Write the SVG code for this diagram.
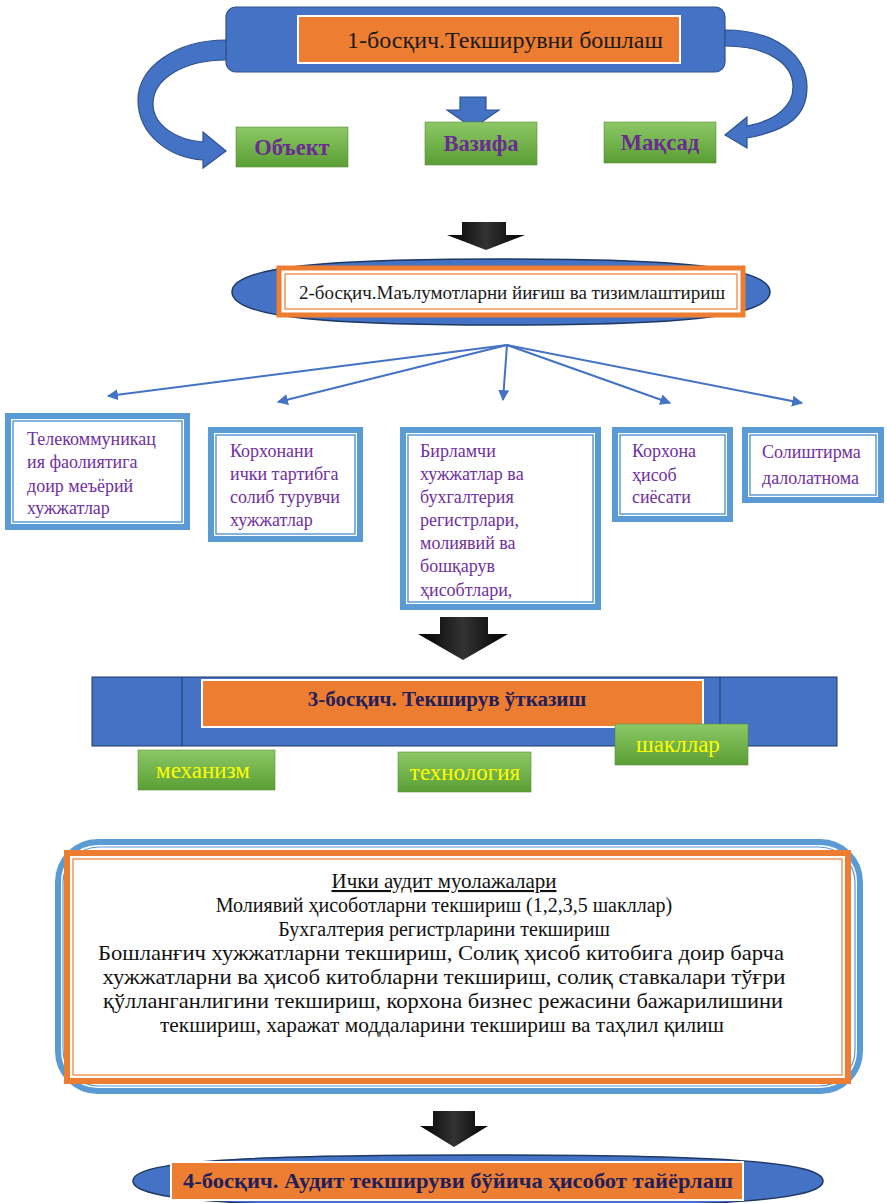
<svg xmlns="http://www.w3.org/2000/svg" width="887" height="1203" viewBox="0 0 887 1203">
<defs>
<linearGradient id="green" x1="0" y1="0" x2="0" y2="1"><stop offset="0" stop-color="#8CC866"/><stop offset="1" stop-color="#5B9E35"/></linearGradient>
<linearGradient id="black" x1="0" y1="0" x2="1" y2="0"><stop offset="0" stop-color="#000"/><stop offset="0.5" stop-color="#333"/><stop offset="1" stop-color="#000"/></linearGradient>
<style>
.serif{font-family:"Liberation Serif","Times New Roman",serif}
.blue{fill:#4472C4;stroke:#2F528F;stroke-width:1.2}
.orange{fill:#ED7D31;stroke:#fff;stroke-width:2}
.gbox{fill:url(#green);stroke:#5A8A3A;stroke-width:0.6}
.gtext{font-family:"Liberation Serif",serif;font-weight:bold;font-size:22.5px;fill:#6A2C91;text-anchor:middle}
.ytext{font-family:"Liberation Serif",serif;font-size:23px;fill:#FFFF00;text-anchor:middle}
.ptext{font-family:"Liberation Serif",serif;font-size:18px;fill:#7030A0}
.outer{fill:#fff;stroke:#5B9BD5;stroke-width:6}
.inner{fill:none;stroke:#5B9BD5;stroke-width:1.5}
.bk{fill:url(#black)}
.conn{stroke:#4472C4;stroke-width:2;fill:none}
.body{font-family:"Liberation Serif",serif;font-size:21px;fill:#111;text-anchor:middle}
.body2{font-family:"Liberation Serif",serif;font-size:20px;fill:#111;text-anchor:middle}
</style>
<marker id="ah" viewBox="0 0 10 10" refX="9" refY="5" markerWidth="11" markerHeight="11" orient="auto" markerUnits="userSpaceOnUse"><path d="M0,0 L10,5 L0,10 z" fill="#4472C4"/></marker>
</defs>
<rect width="887" height="1203" fill="#fff"/>

<g id="stage1">
<rect x="226" y="7" width="499" height="65" rx="10" class="blue"/>
<rect x="298" y="16" width="382" height="47" class="orange"/>
<text x="505" y="48" class="serif" font-size="24" fill="#1a1a1a" text-anchor="middle">1-босқич.Текширувни бошлаш</text>
</g>

<g id="connectors">
<path d="M226,40 C175,40 138,68 138,100 C138,135 170,158 203,160 L203,168 L226,151 L203,132 L203,142 C176,140 153,125 153,104 C153,78 185,60 226,60 Z" class="blue"/>
<path d="M725,30 C775,30 807,55 807,87 C807,115 790,130 747,138 L747,148 L725,135 L747,117 L747,126 C778,120 793,105 793,87 C793,62 765,46 725,46 Z" class="blue"/>
<path d="M460,97 H486 V110 H499 L473,128 L447,110 H460 Z" class="blue"/>
<path d="M462,222 H506 V235 H525 L486,250 L447,235 H462 Z" class="bk"/>
<g class="conn" marker-end="url(#ah)">
<line x1="507" y1="345" x2="108" y2="396"/>
<line x1="507" y1="345" x2="278" y2="402"/>
<line x1="507" y1="345" x2="503" y2="400"/>
<line x1="507" y1="345" x2="670" y2="403"/>
<line x1="507" y1="345" x2="802" y2="403"/>
</g>
<path d="M440,617 H488 V634 H508 L463,660 L418,634 H440 Z" class="bk"/>
<path d="M433,1111 H475 V1126 H488 L454,1147 L420,1126 H433 Z" class="bk"/>
</g>

<g id="obj"><rect x="236" y="127" width="112" height="40" class="gbox"/><text x="292" y="155" class="gtext">Объект</text></g>
<g id="vazifa"><rect x="425" y="122" width="112" height="43" class="gbox"/><text x="481" y="151" class="gtext">Вазифа</text></g>
<g id="maqsad"><rect x="604" y="122" width="112" height="41" class="gbox"/><text x="660" y="150" class="gtext">Мақсад</text></g>

<g id="stage2">
<path d="M232,292 C232,266 330,259 501,259 C672,259 770,266 770,292 C770,318 672,325 501,325 C330,325 232,318 232,292 Z" fill="#4472C4" stroke="#1F3864" stroke-width="1.5"/>
<rect x="279" y="268" width="464" height="47" fill="#fff" stroke="#ED7D31" stroke-width="5"/>
<rect x="285" y="274" width="452" height="35" fill="none" stroke="#ED7D31" stroke-width="1.2"/>
<text x="512" y="299" class="serif" font-size="19" fill="#1a1a1a" text-anchor="middle">2-босқич.Маълумотларни йиғиш ва тизимлаштириш</text>
</g>

<g id="doc1"><rect x="8" y="416" width="179" height="111" class="outer"/><rect x="13" y="421" width="169" height="101" class="inner"/>
<text class="ptext" x="27"><tspan y="445">Телекоммуникац</tspan><tspan x="27" y="468">ия фаолиятига</tspan><tspan x="27" y="492">доир меъёрий</tspan><tspan x="27" y="514">хужжатлар</tspan></text></g>
<g id="doc2"><rect x="211" y="430" width="149" height="109" class="outer"/><rect x="216" y="435" width="139" height="99" class="inner"/>
<text class="ptext" x="230"><tspan y="457">Корхонани</tspan><tspan x="230" y="480">ички тартибга</tspan><tspan x="230" y="503">солиб турувчи</tspan><tspan x="230" y="526">хужжатлар</tspan></text></g>
<g id="doc3"><rect x="403" y="430" width="195" height="177" class="outer"/><rect x="408" y="435" width="185" height="167" class="inner"/>
<text class="ptext" x="420"><tspan y="457">Бирламчи</tspan><tspan x="420" y="480">хужжатлар ва</tspan><tspan x="420" y="503">бухгалтерия</tspan><tspan x="420" y="526">регистрлари,</tspan><tspan x="420" y="549">молиявий ва</tspan><tspan x="420" y="572">бошқарув</tspan><tspan x="420" y="596">ҳисобтлари,</tspan></text></g>
<g id="doc4"><rect x="615" y="430" width="115" height="89" class="outer"/><rect x="620" y="435" width="105" height="79" class="inner"/>
<text class="ptext" x="632"><tspan y="457">Корхона</tspan><tspan x="632" y="481">ҳисоб</tspan><tspan x="632" y="503">сиёсати</tspan></text></g>
<g id="doc5"><rect x="745" y="430" width="136" height="70" class="outer"/><rect x="750" y="435" width="126" height="60" class="inner"/>
<text class="ptext" x="762"><tspan y="458">Солиштирма</tspan><tspan x="762" y="484">далолатнома</tspan></text></g>

<g id="stage3">
<rect x="92" y="677" width="745" height="69" fill="#4472C4" stroke="#1F3864" stroke-width="1"/>
<line x1="182" y1="677" x2="182" y2="746" stroke="#1F3864" stroke-width="1"/>
<line x1="720" y1="677" x2="720" y2="746" stroke="#1F3864" stroke-width="1"/>
<rect x="202" y="680" width="501" height="47" class="orange"/>
<text x="447" y="706" class="serif" font-size="21" font-weight="bold" fill="#1F1F5C" text-anchor="middle">3-босқич. Текширув ўтказиш</text>
</g>
<g id="mexanizm"><rect x="138" y="750" width="137" height="40" class="gbox"/><text x="203" y="778" class="ytext">механизм</text></g>
<g id="texnologiya"><rect x="398" y="752" width="133" height="40" class="gbox"/><text x="465" y="780" class="ytext">технология</text></g>
<g id="shakllar"><rect x="615" y="724" width="133" height="41" class="gbox"/><text x="678" y="752" class="ytext">шакллар</text></g>

<g id="procedures">
<rect x="58" y="842" width="802" height="249" rx="40" fill="#fff" stroke="#5B9BD5" stroke-width="6"/>
<rect x="63" y="847" width="792" height="239" rx="36" fill="none" stroke="#5B9BD5" stroke-width="1.2"/>
<rect x="67" y="853" width="781" height="228" fill="#fff" stroke="#ED7D31" stroke-width="6"/>
<rect x="73" y="859" width="769" height="216" fill="none" stroke="#ED7D31" stroke-width="1.2"/>
<text class="body" x="444" y="888" text-decoration="underline">Ички аудит муолажалари</text>
<text class="body2" x="444" y="912">Молиявий ҳисоботларни текшириш (1,2,3,5 шакллар)</text>
<text class="body2" x="444" y="936">Бухгалтерия регистрларини текшириш</text>
<text class="body" x="441" y="960" textLength="686" lengthAdjust="spacingAndGlyphs">Бошланғич хужжатларни текшириш, Солиқ ҳисоб китобига доир барча</text>
<text class="body" x="444" y="984" textLength="683" lengthAdjust="spacingAndGlyphs">хужжатларни ва ҳисоб китобларни текшириш, солиқ ставкалари тўғри</text>
<text class="body" x="443" y="1008" textLength="680" lengthAdjust="spacingAndGlyphs">қўлланганлигини текшириш, корхона бизнес режасини бажарилишини</text>
<text class="body" x="442" y="1032" textLength="564" lengthAdjust="spacingAndGlyphs">текшириш, харажат моддаларини текшириш ва таҳлил қилиш</text>
</g>

<g id="stage4">
<path d="M133,1181 C133,1162 230,1155 478,1155 C726,1155 823,1162 823,1181 C823,1200 726,1207 478,1207 C230,1207 133,1200 133,1181 Z" fill="#4472C4" stroke="#1F3864" stroke-width="1.5"/>
<rect x="171" y="1162" width="572" height="38" class="orange"/>
<text x="458" y="1188" class="serif" font-size="21" font-weight="bold" fill="#1F1F5C" text-anchor="middle" textLength="550" lengthAdjust="spacingAndGlyphs">4-босқич. Аудит текшируви бўйича ҳисобот тайёрлаш</text>
</g>
</svg>
